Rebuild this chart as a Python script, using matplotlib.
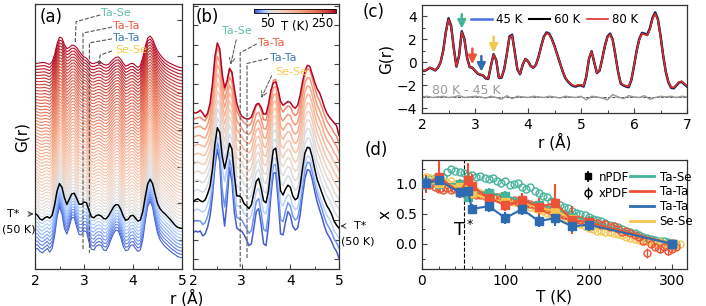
import numpy as np
import matplotlib
matplotlib.use("Agg")
import matplotlib.pyplot as plt
from matplotlib.colors import ListedColormap, Normalize
from matplotlib.cm import ScalarMappable
from matplotlib.ticker import MultipleLocator
from matplotlib.lines import Line2D

# ---------------- data ----------------
# (a) xPDF, G(r) on a 0.05 A grid from 2 to 5 A (arbitrary units)
r_ab = np.round(np.arange(2.0, 5.001, 0.05), 2)
ga_5K = [5.4, 5.6, 4.8, 4.4, 5.0, 5.6, 4.6, 5.6, 9.0, 14.0, 17.0, 15.0, 11.0, 9.5, 11.5, 14.0,
         14.0, 11.5, 9.4, 9.3, 10.4, 10.2, 7.4, 5.4, 5.2, 6.2, 6.6, 6.4, 5.2, 5.0, 6.2, 8.0,
         9.6, 10.6, 10.4, 8.6, 6.2, 5.0, 5.2, 6.4, 6.6, 5.6, 4.8, 5.2, 8.0, 13.0, 17.0, 18.5,
         16.8, 13.0, 9.8, 8.0, 7.0, 6.2, 5.6, 5.0, 4.4, 4.0, 3.5, 3.2, 3.1]
ga_50K = [7.5, 7.0, 6.0, 5.7, 6.3, 6.6, 6.2, 7.0, 9.8, 13.6, 15.6, 14.6, 11.8, 9.9, 11.4, 12.8,
          13.0, 11.6, 10.0, 10.0, 10.6, 10.4, 8.4, 6.6, 6.3, 6.9, 7.1, 6.8, 6.1, 6.0, 6.8, 8.0,
          9.2, 9.9, 9.8, 8.6, 6.8, 5.6, 5.9, 6.8, 7.0, 6.2, 5.4, 5.7, 8.0, 12.0, 15.5, 16.8,
          15.6, 12.8, 10.2, 8.8, 8.0, 7.4, 6.7, 6.0, 5.2, 4.4, 3.8, 3.5, 3.4]
ga_300K = [5.85, 5.9, 6.0, 6.1, 6.1, 5.8, 5.6, 6.3, 8.3, 11.2, 13.0, 12.8, 11.0, 9.9, 10.2, 10.8,
           10.8, 10.2, 9.2, 8.3, 7.65, 7.3, 6.5, 5.9, 5.8, 6.1, 6.3, 6.1, 5.6, 5.4, 5.6, 6.3,
           7.0, 7.5, 7.65, 7.0, 5.9, 5.1, 5.4, 5.8, 5.85, 5.3, 4.75, 5.3, 7.5, 10.5, 12.8, 13.3,
           12.5, 10.8, 9.3, 8.3, 7.5, 6.8, 6.3, 5.9, 5.6, 5.3, 5.0, 4.8, 4.7]
temps_a = list(range(5, 305, 5))

# (b) nPDF
gb_5K = [2.7, 2.9, 2.8, 2.9, 2.4, 2.6, 3.3, 4.4, 6.5, 9.5, 11.3, 10.0, 5.5, 3.4, 6.0, 9.4,
         8.0, 4.8, 3.2, 3.0, 2.9, 2.5, 2.0, 1.4, 1.6, 3.2, 4.9, 5.2, 3.6, 1.6, 1.4, 3.4,
         6.5, 8.8, 8.9, 6.0, 2.6, 2.5, 3.8, 4.9, 4.5, 3.4, 3.0, 3.2, 4.5, 6.5, 8.3, 9.2,
         9.1, 8.2, 7.0, 5.9, 5.1, 4.3, 3.4, 2.7, 2.3, 1.8, 1.2, 0.8, 0.1]
gb_50K = [2.9, 3.1, 3.2, 3.0, 2.9, 3.1, 3.7, 4.5, 6.2, 8.8, 10.5, 10.0, 7.6, 6.3, 7.5, 8.9,
          8.3, 5.6, 3.5, 3.5, 3.3, 2.7, 2.5, 2.2, 2.6, 3.8, 5.0, 5.3, 4.3, 3.0, 2.8, 4.0,
          6.3, 8.2, 8.4, 6.5, 4.0, 3.6, 4.2, 4.6, 4.4, 3.5, 3.1, 3.3, 4.5, 6.3, 7.9, 8.5,
          8.4, 7.5, 6.3, 5.2, 4.5, 3.8, 3.1, 2.5, 2.1, 1.6, 0.9, 0.5, 0.2]
gb_300K = [2.1, 2.0, 2.1, 2.3, 2.0, 1.6, 2.0, 3.0, 5.0, 7.8, 9.2, 8.6, 6.0, 4.6, 5.3, 6.6,
           6.2, 4.5, 3.0, 2.2, 1.7, 1.5, 1.4, 1.4, 1.6, 2.3, 2.9, 3.0, 2.6, 1.9, 1.9, 2.9,
           4.3, 5.1, 5.2, 4.4, 3.2, 2.8, 3.0, 3.2, 3.1, 2.7, 2.5, 2.8, 3.8, 5.2, 6.3, 6.9,
           6.8, 6.0, 5.2, 4.5, 4.1, 3.4, 2.6, 2.0, 1.6, 1.3, 1.0, 0.7, -0.3]
temps_b = [5, 20, 45, 50, 55, 60, 80, 100, 120, 140, 160, 180, 200, 300]

# (c) G(r) at 80 K, 2-7 A
r_c = np.round(np.arange(2.0, 7.001, 0.05), 2)
gc_80K = [-0.70, -0.72, -0.60, -0.45, -0.55, -0.68, -0.45, 0.00, 1.00, 2.60, 3.75, 3.10, 1.20,
          -0.35, 0.60, 2.65, 2.00, 0.40, -0.40, -0.45, -0.70, -0.95, -1.05, -1.10, -1.35, -1.40,
          -0.30, 0.70, 0.20, -1.30, -1.30, -0.60, 0.70, 2.20, 2.35, 0.90, -0.60, -1.00, -0.20,
          0.30, 0.10, -0.30, -0.45, -0.20, 0.50, 1.40, 2.20, 2.55, 2.45, 2.00, 1.40, 0.70, 0.00,
          -0.70, -1.30, -1.60, -1.85, -2.00, -2.05, -1.95, -1.95, -2.05, -1.20, 0.30, 0.95, 0.00,
          -0.90, -0.70, 0.30, 1.40, 2.20, 2.45, 1.90, 0.60, -0.80, -1.80, -1.95, -2.05, -2.10,
          -1.50, -0.30, 1.00, 2.00, 2.50, 2.45, 2.35, 2.90, 3.80, 4.25, 3.70, 2.30, 0.60, -0.80,
          -1.70, -2.15, -2.20, -1.95, -1.70, -1.65, -1.85, -2.05]
scale_45K = 1.03   # 45 K peaks slightly sharper
scale_60K = 1.015
r_diff = np.round(np.arange(2.0, 7.001, 0.1), 1)
gc_diff = [-3.0, -2.95, -3.05, -3.0, -2.95, -3.05, -3.0, -2.9, -3.05, -3.0,
           -2.95, -3.0, -3.1, -2.95, -3.05, -3.2, -2.9, -3.15, -2.95, -3.0,
           -3.05, -2.95, -3.0, -3.05, -2.95, -3.0, -3.1, -2.95, -3.0, -3.05,
           -2.95, -3.25, -2.95, -3.0, -3.1, -3.25, -2.8, -3.0, -3.15, -2.9,
           -3.0, -3.05, -2.9, -3.2, -3.05, -2.95, -3.0, -2.95, -3.05, -2.95, -3.0]

# (d) order parameter x(T)
T_n = [5, 20, 45, 55, 60, 80, 100, 120, 140, 160, 180, 200, 300]
xn_tase = [1.0, 1.0, 1.0, 0.79, 0.88, 0.85, 0.80, 0.72, 0.65, 0.60, 0.45, 0.38, 0.0]
en_tase = [0.08, 0.08, 0.08, 0.08, 0.08, 0.08, 0.08, 0.08, 0.08, 0.08, 0.08, 0.08, 0.05]
xn_tata_r = [1.0, 1.12, 0.86, 1.07, 0.97, 0.76, 0.65, 0.73, 0.62, 0.68, 0.40, 0.36, 0.0]
en_tata_r = [0.15, 0.26, 0.10, 0.28, 0.20, 0.12, 0.10, 0.12, 0.15, 0.32, 0.24, 0.10, 0.05]
xn_tata_b = [1.01, 1.06, 0.86, 0.89, 0.58, 0.63, 0.43, 0.58, 0.38, 0.43, 0.29, 0.32, 0.0]
en_tata_b = [0.12, 0.12, 0.10, 0.12, 0.08, 0.10, 0.10, 0.10, 0.10, 0.14, 0.10, 0.10, 0.06]
xn_sese = [1.0, 1.02, 0.95, 0.90, 0.85, 0.74, 0.70, 0.70, 0.60, 0.55, 0.42, 0.35, 0.0]
en_sese = [0.08, 0.08, 0.08, 0.08, 0.08, 0.08, 0.08, 0.08, 0.08, 0.08, 0.08, 0.08, 0.05]

T_x = list(range(5, 310, 5))
xx_tase = [1.05, 1.08, 1.10, 1.10, 1.12, 1.20, 1.25, 1.22, 1.20, 1.18, 1.15, 1.15, 1.12,
           1.14, 1.10, 1.08, 1.10, 1.05, 1.02, 1.05, 0.98, 1.00, 1.02, 0.95, 0.92, 0.95,
           0.88, 0.85, 0.80, 0.78, 0.72, 0.70, 0.65, 0.62, 0.60, 0.55, 0.52, 0.50, 0.48,
           0.45, 0.42, 0.40, 0.38, 0.35, 0.32, 0.30, 0.28, 0.25, 0.22, 0.20, 0.18, 0.15,
           0.12, 0.10, 0.08, 0.06, 0.05, 0.04, 0.03, 0.02, 0.00]
xx_tata = [1.00, 0.98, 0.95, 0.92, 0.90, 0.93, 0.90, 0.92, 0.88, 0.85, 0.85, 0.83, 0.82,
           0.82, 0.80, 0.80, 0.78, 0.78, 0.75, 0.76, 0.72, 0.73, 0.70, 0.72, 0.68, 0.66,
           0.65, 0.62, 0.60, 0.58, 0.55, 0.55, 0.50, 0.48, 0.47, 0.45, 0.42, 0.40, 0.38,
           0.38, 0.35, 0.35, 0.32, 0.33, 0.28, 0.30, 0.25, 0.20, 0.22, 0.18, 0.15, 0.12,
           0.05, -0.15, 0.00, -0.05, -0.08, -0.05, -0.12, -0.08, -0.05]
ex_tata = [0.03] * 50 + [0.05, 0.05, 0.06, 0.08, 0.06, 0.06, 0.07, 0.06, 0.07, 0.06, 0.05]
T_x_sese = list(range(5, 315, 5))
xx_sese = [1.12, 1.10, 1.08, 1.05, 1.05, 1.02, 1.05, 1.00, 0.95, 0.92, 0.90, 0.88, 0.88,
           0.85, 0.83, 0.85, 0.80, 0.78, 0.80, 0.75, 0.72, 0.70, 0.68, 0.65, 0.65, 0.62,
           0.60, 0.58, 0.55, 0.52, 0.50, 0.48, 0.45, 0.42, 0.40, 0.38, 0.35, 0.33, 0.30,
           0.26, 0.25, 0.22, 0.21, 0.20, 0.19, 0.18, 0.17, 0.15, 0.12, 0.10, 0.08, 0.06,
           0.05, 0.05, 0.04, 0.02, 0.03, 0.00, -0.02, 0.00, -0.02, 0.00]

c_tase = '#45b39c'
c_tata_r = '#ee5236'
c_tata_b = '#2e6bb0'
c_sese = '#f5c64e'

# colour map for temperature, white point near T*
cw = plt.get_cmap('coolwarm')
cmap_T = ListedColormap(np.vstack([cw(np.linspace(0, 0.5, 60)), cw(np.linspace(0.5, 1, 240))]))
norm_T = Normalize(0, 300)


def stack_curve(T, cold, mid, hot, T_lo=5, T_mid=50, T_hi=300):
    cold, mid, hot = np.asarray(cold), np.asarray(mid), np.asarray(hot)
    if T <= T_mid:
        w = (T - T_lo) / (T_mid - T_lo)
        return (1 - w) * cold + w * mid
    w = (T - T_mid) / (T_hi - T_mid)
    return (1 - w) * mid + w * hot


def style(ax):
    for s in ax.spines.values():
        s.set_color('#333333')
        s.set_linewidth(0.9)
    ax.tick_params(which='both', direction='in', color='#444444', labelsize=10)
    ax.tick_params(which='major', length=3.5, width=0.8)
    ax.tick_params(which='minor', length=2, width=0.7)


plt.rcParams['font.family'] = 'DejaVu Sans'
fig = plt.figure(figsize=(7.06, 3.06), dpi=100)
W, H = 706, 306

def box(x0, y0, x1, y1):
    return [x0 / W, 1 - y1 / H, (x1 - x0) / W, (y1 - y0) / H]

ax_a = fig.add_axes(box(35, 4, 182, 269))
ax_b = fig.add_axes(box(193, 4, 339, 269))
ax_c = fig.add_axes(box(422, 5, 687, 113))
ax_d = fig.add_axes(box(422, 160, 687, 269))
cax = fig.add_axes(box(254, 9, 336, 13))

# ---- (a) ----
for i, T in enumerate(temps_a):
    g = stack_curve(T, ga_5K, ga_50K, ga_300K) + i * 0.85
    if T == 50:
        ax_a.plot(r_ab, g, color='k', lw=1.1, zorder=3)
    else:
        ax_a.plot(r_ab, g, color=cmap_T(norm_T(T)), lw=0.8)
ax_a.set_xlim(2, 5)
ax_a.set_ylim(0, 72.2)
ax_a.set_yticks(np.arange(7.9, 70, 10))
ax_a.set_yticklabels([])
ax_a.yaxis.set_ticks_position('right')
ax_a.xaxis.set_major_locator(MultipleLocator(1))
ax_a.xaxis.set_minor_locator(MultipleLocator(0.5))
style(ax_a)
ax_a.set_ylabel('G(r)', fontsize=11, labelpad=4)
ax_a.yaxis.set_label_position('left')
ax_a.text(0.03, 0.985, '(a)', transform=ax_a.transAxes, fontsize=12, va='top')

lc = '#555555'
ax_a.plot([3.33, 2.84, 2.82], [69.2, 67.4, 61.6], ls='--', color=lc, lw=0.8)
ax_a.plot([3.57, 2.98, 2.98], [65.9, 64.3, 5.2], ls='--', color=lc, lw=0.8)
ax_a.plot([3.57, 3.11, 3.11], [62.7, 61.6, 4.4], ls='--', color=lc, lw=0.8)
ax_a.plot([3.57, 3.33, 3.31], [59.4, 58.3, 56.6], ls='--', color=lc, lw=0.8)
ax_a.plot([3.31], [56.4], 'o', color=lc, ms=1.5)
ax_a.text(3.35, 69.8, 'Ta-Se', color='#5fbfac', fontsize=8, va='center')
ax_a.text(3.60, 66.3, 'Ta-Ta', color='#ef5a3c', fontsize=8, va='center')
ax_a.text(3.60, 63.0, 'Ta-Ta', color='#3a78b8', fontsize=8, va='center')
ax_a.text(3.64, 59.6, 'Se-Se', color='#f7c948', fontsize=8, va='center')
ax_a.annotate('T*', xy=(0, (269 - 214) / 265), xycoords='axes fraction',
              xytext=(-16, 0), textcoords='offset points', fontsize=8, va='center', ha='center',
              arrowprops=dict(arrowstyle='->', color='#333333', lw=0.7, shrinkA=5, shrinkB=1))
ax_a.text(-0.112, (269 - 229) / 265, '(50 K)', transform=ax_a.transAxes, fontsize=8,
          ha='center', va='center')

# ---- (b) ----
for i, T in enumerate(temps_b):
    g = stack_curve(T, gb_5K, gb_50K, gb_300K) + i * 1.0
    if T == 50:
        ax_b.plot(r_ab, g, color='k', lw=1.1, zorder=3)
    else:
        ax_b.plot(r_ab, g, color=cmap_T(norm_T(T)), lw=1.1)
ax_b.set_xlim(2, 5)
ax_b.set_ylim(-1.0, 26.2)
ax_b.yaxis.set_major_locator(MultipleLocator(2))
ax_b.set_yticklabels([])
ax_b.tick_params(axis='y', left=True, right=True)
ax_b.xaxis.set_major_locator(MultipleLocator(1))
ax_b.xaxis.set_minor_locator(MultipleLocator(0.5))
style(ax_b)
ax_b.text(0.02, 0.985, '(b)', transform=ax_b.transAxes, fontsize=12, va='top')

ax_b.annotate('', xy=(2.76, 19.7), xytext=(2.9, 22.8),
              arrowprops=dict(arrowstyle='->', ls='--', color=lc, lw=0.7))
ax_b.plot([3.31, 2.97, 2.97], [22.1, 21.2, -0.8], ls='--', color=lc, lw=0.8)
ax_b.plot([3.54, 3.11, 3.11], [20.6, 20.1, 0.13], ls='--', color=lc, lw=0.8)
ax_b.annotate('', xy=(3.38, 16.3), xytext=(3.64, 19.1),
              arrowprops=dict(arrowstyle='->', ls='--', color=lc, lw=0.7))
ax_b.text(2.9, 23.4, 'Ta-Se', color='#5fbfac', fontsize=8, ha='center', va='center')
ax_b.text(3.33, 22.2, 'Ta-Ta', color='#ef5a3c', fontsize=8, va='center')
ax_b.text(3.58, 20.7, 'Ta-Ta', color='#3a78b8', fontsize=8, va='center')
ax_b.text(3.68, 19.2, 'Se-Se', color='#f7c948', fontsize=8, va='center')
ax_b.annotate('T*', xy=(1.0, (269 - 226) / 265), xycoords='axes fraction',
              xytext=(15, 0), textcoords='offset points', fontsize=8, va='center', ha='center',
              arrowprops=dict(arrowstyle='->', color='#333333', lw=0.7, shrinkA=5, shrinkB=1))
ax_b.text(1.13, (269 - 241) / 265, '(50 K)', transform=ax_b.transAxes, fontsize=8,
          ha='center', va='center')

sm = ScalarMappable(norm=norm_T, cmap=cmap_T)
cb = fig.colorbar(sm, cax=cax, orientation='horizontal')
cb.set_ticks([50, 250])
cb.outline.set_linewidth(0.6)
cax.tick_params(labelsize=8.5, length=2, pad=1)
cax.set_xlabel('T (K)', fontsize=8.5, labelpad=-7)

fig.text(187 / W, 1 - 298 / H, 'r (Å)', ha='center', va='center', fontsize=11)

# ---- (c) ----
gc = np.asarray(gc_80K)
ax_c.axhline(-3, ls='--', color='#333333', lw=0.6)
ax_c.plot(r_diff, gc_diff, color='#9a9a9a', lw=1.1)
ax_c.plot(r_c, gc * scale_45K, color='#4a6ee0', lw=1.8, label='45 K')
ax_c.plot(r_c, gc * scale_60K, color='k', lw=1.5, label='60 K')
ax_c.plot(r_c, gc, color='#d9322e', lw=1.2, label='80 K')
ax_c.set_xlim(2, 7)
ax_c.set_ylim(-4.4, 5.0)
ax_c.xaxis.set_major_locator(MultipleLocator(1))
ax_c.xaxis.set_minor_locator(MultipleLocator(0.5))
ax_c.yaxis.set_major_locator(MultipleLocator(2))
ax_c.yaxis.set_minor_locator(MultipleLocator(1))
style(ax_c)
ax_c.set_xlabel('r (Å)', fontsize=11, labelpad=1)
ax_c.set_ylabel('G(r)', fontsize=11, labelpad=2)
ax_c.legend(loc='upper center', bbox_to_anchor=(0.5, 1.02), ncol=3, frameon=False, fontsize=8.5,
            handlelength=1.8, columnspacing=0.6, handletextpad=0.3)
ax_c.text(2.19, -2.45, '80 K - 45 K', color='#9a9a9a', fontsize=9, va='center')
for r0, y0, y1, c in [(2.75, 4.2, 2.95, c_tase), (2.95, 1.2, -0.15, c_tata_r),
                      (3.12, 0.55, -0.8, c_tata_b), (3.35, 2.25, 0.85, c_sese)]:
    ax_c.annotate('', xy=(r0, y1), xytext=(r0, y0),
                  arrowprops=dict(arrowstyle='-|>', color=c, lw=1.8, mutation_scale=12,
                                  shrinkA=0, shrinkB=0))
fig.text(363 / W, 1 - 12 / H, '(c)', fontsize=12, va='center')

# ---- (d) ----
ax_d.axvline(50, ls='--', color='k', lw=0.8)
ax_d.plot(T_x, xx_tase, 'o', mfc='none', mec=c_tase, ms=5, mew=1.0)
ax_d.errorbar(T_x, xx_tata, yerr=ex_tata, fmt='o', mfc='none', mec=c_tata_r, ecolor=c_tata_r,
              ms=5, mew=1.0, elinewidth=1.0)
ax_d.plot(T_x_sese, xx_sese, 'o', mfc='none', mec=c_sese, ms=5, mew=1.0)
for xs, es, c in [(xn_tase, en_tase, c_tase), (xn_sese, en_sese, c_sese),
                  (xn_tata_r, en_tata_r, c_tata_r), (xn_tata_b, en_tata_b, c_tata_b)]:
    ax_d.errorbar(T_n, xs, yerr=es, fmt='s-', color=c, ms=6, lw=1.5, elinewidth=1.5,
                  capsize=0, zorder=3)
ax_d.set_xlim(0, 318)
ax_d.set_ylim(-0.42, 1.4)
ax_d.xaxis.set_major_locator(MultipleLocator(100))
ax_d.xaxis.set_minor_locator(MultipleLocator(20))
ax_d.yaxis.set_major_locator(MultipleLocator(0.5))
ax_d.yaxis.set_minor_locator(MultipleLocator(0.25))
style(ax_d)
ax_d.set_xlabel('T (K)', fontsize=11, labelpad=1)
ax_d.set_ylabel('x', fontsize=11, labelpad=2)
ax_d.text(50, 0.23, 'T$^*$', fontsize=13, ha='center', va='center')
fig.text(365 / W, 1 - 150 / H, '(d)', fontsize=12, va='center')

h_n = ax_d.errorbar([], [], yerr=[], fmt='s', color='k', ms=5, elinewidth=1.2)
h_x = ax_d.errorbar([], [], yerr=[], fmt='o', mfc='none', mec='k', ecolor='k', ms=5, elinewidth=1.0)
leg1 = ax_d.legend([h_n, h_x], ['nPDF', 'xPDF'], loc='upper left', bbox_to_anchor=(0.565, 1.0),
                   frameon=False, fontsize=8.5, handlelength=1.0, handletextpad=0.4,
                   labelspacing=0.3)
ax_d.add_artist(leg1)
line_h = [Line2D([], [], color=c, lw=2) for c in (c_tase, c_tata_r, c_tata_b, c_sese)]
ax_d.legend(line_h, ['Ta-Se', 'Ta-Ta', 'Ta-Ta', 'Se-Se'], loc='upper left',
            bbox_to_anchor=(0.745, 1.0), frameon=False, fontsize=8.5, handlelength=2.0,
            handletextpad=0.5, labelspacing=0.15)

fig.savefig('out.png', dpi=100)
